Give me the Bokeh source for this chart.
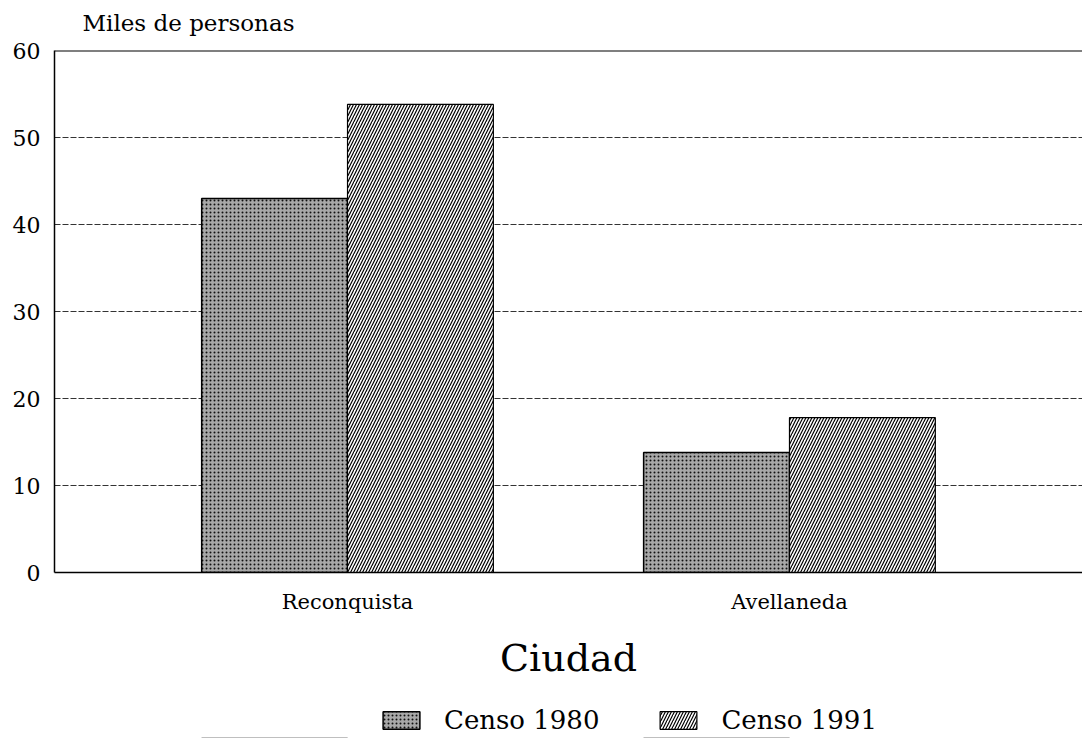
from bokeh.plotting import figure
from bokeh.models import ColumnDataSource, FactorRange, Legend, LegendItem, Span, Label
from bokeh.layouts import column
from bokeh.transform import dodge
from bokeh.embed import file_html
from bokeh.resources import INLINE

cities = ["Reconquista", "Avellaneda"]
censo_1980 = [43.0, 13.8]
censo_1991 = [53.8, 17.8]
y_ticks = [0, 10, 20, 30, 40, 50, 60]
series_labels = ["Censo 1980", "Censo 1991"]

FONT = "DejaVu Serif"
W_TOTAL = 1082
FRAME_H = 522

src = ColumnDataSource(dict(city=cities, c1980=censo_1980, c1991=censo_1991))

style_1980 = dict(fill_color="#a8a8a8", line_color="black", line_width=1.5,
                  hatch_pattern="dot", hatch_color="#111111", hatch_scale=4, hatch_weight=1.2)
style_1991 = dict(fill_color="white", line_color="black", line_width=1.2,
                  hatch_pattern="right_diagonal_line", hatch_color="black", hatch_scale=6, hatch_weight=1.2)
w = 0.33

# ---- top strip: y-axis caption ----
top = figure(width=W_TOTAL, height=38, output_backend="svg", toolbar_location=None,
             x_axis_location=None, y_axis_location=None,
             min_border_left=0, min_border_right=0, min_border_top=0, min_border_bottom=0)
top.outline_line_color = None
top.grid.grid_line_color = None
top.add_layout(Label(x=28, y=16, x_units="screen", y_units="screen",
                     text="Miles de personas", text_font=FONT, text_font_size="23px",
                     text_color="black", text_align="left", text_baseline="middle"))

# ---- main chart ----
xr = FactorRange(*cities, range_padding=0.163, range_padding_units="absolute")
p = figure(
    frame_width=W_TOTAL - 54, frame_height=FRAME_H,
    x_range=xr, y_range=(0, 60),
    output_backend="svg", toolbar_location=None,
    min_border_left=54, min_border_right=0, min_border_top=12, min_border_bottom=110,
)

r1 = p.vbar(x=dodge("city", -w / 2, range=xr), top="c1980", width=w, source=src, **style_1980)
r2 = p.vbar(x=dodge("city", w / 2, range=xr), top="c1991", width=w, source=src, **style_1991)

p.outline_line_color = None
p.add_layout(Span(location=60, dimension="width", line_color="black", line_width=2))

p.xgrid.grid_line_color = None
p.ygrid.grid_line_color = "#333333"
p.ygrid.grid_line_dash = "6 2"
p.ygrid.grid_line_width = 1

p.yaxis.ticker = y_ticks
p.yaxis.major_tick_line_color = None
p.yaxis.major_tick_out = 0
p.yaxis.major_tick_in = 0
p.yaxis.minor_tick_line_color = None
p.yaxis.axis_line_color = "black"
p.yaxis.axis_line_width = 1.5
p.yaxis.major_label_text_font = FONT
p.yaxis.major_label_text_font_size = "22px"
p.yaxis.major_label_text_color = "black"
p.yaxis.major_label_standoff = 14

p.xaxis.major_tick_line_color = None
p.xaxis.minor_tick_line_color = None
p.xaxis.axis_line_color = "black"
p.xaxis.axis_line_width = 1.5
p.xaxis.major_label_text_font = FONT
p.xaxis.major_label_text_font_size = "21px"
p.xaxis.major_label_text_color = "black"
p.xaxis.major_label_standoff = 11
p.xaxis.axis_label = "Ciudad"
p.xaxis.axis_label_text_font = FONT
p.xaxis.axis_label_text_font_size = "38px"
p.xaxis.axis_label_text_font_style = "normal"
p.xaxis.axis_label_text_color = "black"
p.xaxis.axis_label_standoff = 19

# ---- bottom strip: legend (same series, bars kept out of this strip's view) ----
leg = figure(width=W_TOTAL, height=56, output_backend="svg", toolbar_location=None,
             x_range=xr, y_range=(1000, 1001),
             x_axis_location=None, y_axis_location=None,
             min_border_left=0, min_border_right=0, min_border_top=0, min_border_bottom=0)
leg.outline_line_color = None
leg.grid.grid_line_color = None
l1 = leg.vbar(x=dodge("city", -w / 2, range=xr), top="c1980", width=w, source=src, **style_1980)
l2 = leg.vbar(x=dodge("city", w / 2, range=xr), top="c1991", width=w, source=src, **style_1991)

legend = Legend(
    items=[LegendItem(label=series_labels[0], renderers=[l1]),
           LegendItem(label=series_labels[1], renderers=[l2])],
    orientation="horizontal", location=(324, 3),
    border_line_color=None, background_fill_alpha=0,
    label_text_font=FONT, label_text_font_size="26px", label_text_color="black",
    glyph_width=46, glyph_height=22, spacing=56, label_standoff=20,
    padding=0, margin=0,
)
leg.add_layout(legend, "center")

open("out.html", "w").write(file_html(column(top, p, leg, spacing=0), INLINE))
